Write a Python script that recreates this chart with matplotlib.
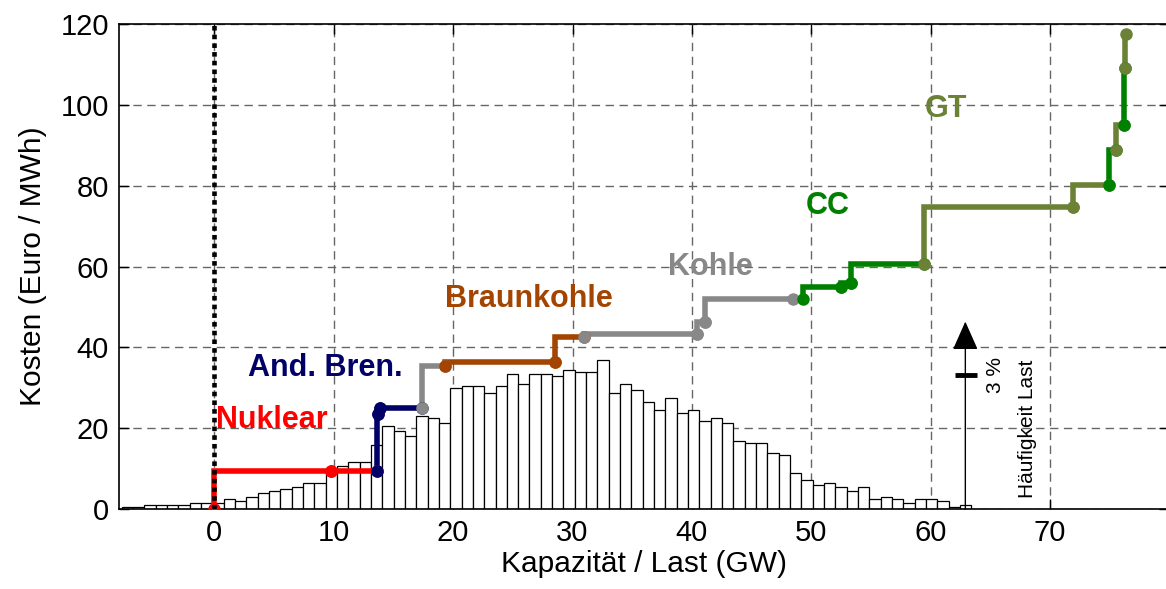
import matplotlib
matplotlib.use("Agg")
import matplotlib.pyplot as plt
import numpy as np

plt.rcParams['font.family'] = ['Liberation Sans', 'DejaVu Sans']

# Lastverteilung (Histogramm), Balkenhoehe in Achseneinheiten (3 % = 33.2)
load_min, load_max = -7.76, 63.4
load_freq = [0.4, 0.4, 1.0, 1.0, 1.0, 1.0, 1.4, 1.4, 1.4, 2.4,
             1.9, 2.9, 3.9, 4.5, 5.0, 5.4, 6.4, 6.4, 9.3, 10.7,
             11.7, 11.7, 15.8, 20.6, 19.3, 18.1, 23.1, 22.6, 21.2, 30.0,
             30.5, 30.5, 28.6, 30.5, 33.5, 31.0, 33.5, 33.5, 33.0, 34.5,
             34.0, 34.0, 37.0, 28.6, 31.0, 29.5, 26.6, 24.6, 27.6, 23.7,
             24.6, 21.7, 22.6, 21.2, 16.8, 16.3, 16.3, 13.8, 13.3, 8.8,
             7.3, 5.9, 6.4, 5.4, 4.4, 5.4, 2.4, 2.9, 2.4, 1.4,
             2.4, 2.4, 1.9, 0.4, 0.9]
pct_ref = 3
pct_ref_height = 33.2

# Kraftwerksbloecke (Merit Order)
unit_start = [0.0, 9.8, 13.6, 13.7, 13.9, 17.4, 19.3, 28.5, 31.0, 40.4,
              41.1, 49.3, 52.5, 53.3, 59.4, 71.9, 74.9, 75.5, 76.2, 76.3]
unit_end = [9.8, 13.6, 13.7, 13.9, 17.4, 19.3, 28.5, 31.0, 40.4, 41.1,
            48.5, 52.5, 53.3, 59.4, 71.9, 74.9, 75.5, 76.2, 76.3, 76.35]
unit_cost = [9.3, 9.3, 23.4, 25.1, 25.1, 35.4, 36.3, 42.5, 43.3, 46.3,
             52.1, 54.9, 56.0, 60.6, 74.8, 80.2, 88.8, 95.1, 109.2, 117.6]
unit_type = ['Nuklear', 'Nuklear', 'And. Bren.', 'And. Bren.', 'And. Bren.',
             'Kohle', 'Braunkohle', 'Braunkohle', 'Kohle', 'Kohle',
             'Kohle', 'CC', 'CC', 'CC', 'GT', 'GT', 'CC', 'GT', 'CC', 'GT']

type_names = ['Nuklear', 'And. Bren.', 'Braunkohle', 'Kohle', 'CC', 'GT']
type_colors = ['#ff0000', '#000066', '#a34400', '#888888', '#008000', '#6b8236']
type_label_x = [0.1, 2.8, 19.3, 38.0, 49.5, 59.5]
type_label_y = [22.0, 34.8, 52.0, 59.8, 75.0, 99.0]

colors = dict(zip(type_names, type_colors))

fig = plt.figure(figsize=(11.66, 5.89), dpi=100)
ax = fig.add_axes([0.1019, 0.1358, 0.9011, 0.8229])

ax.set_axisbelow(True)
ax.grid(True, color='#666666', linestyle=(0, (6, 4)), linewidth=1)

edges = np.linspace(load_min, load_max, len(load_freq) + 1)
ax.bar(edges[:-1], load_freq, width=np.diff(edges), align='edge',
       facecolor='white', edgecolor='black', linewidth=0.9, zorder=1)

prev = 0.0
for x0, x1, c, t in zip(unit_start, unit_end, unit_cost, unit_type):
    col = colors[t]
    ax.plot([x0, x0, x1], [prev, c, c], color=col, lw=4,
            solid_joinstyle='miter', zorder=3)
    ax.plot([x0, x1], [prev, c], 'o', color=col, ms=8, zorder=4)
    prev = c

ax.plot([0, 0], [0, 120], color='black', lw=3.3,
        linestyle=(0, (1.0, 0.9)), dash_capstyle='butt', zorder=5)

for name, col, lx, ly in zip(type_names, type_colors, type_label_x, type_label_y):
    ax.text(lx, ly, name, color=col, fontsize=22, fontweight='bold',
            ha='left', va='center', zorder=6)

# Skala fuer die Lasthaeufigkeit
ax.annotate('', xy=(62.9, 46.4), xytext=(62.9, 0),
            arrowprops=dict(arrowstyle='-|>,head_length=0.9,head_width=0.4',
                            color='black', lw=1, shrinkA=0, shrinkB=0,
                            mutation_scale=20), zorder=6)
ax.plot([62.0, 63.9], [pct_ref_height, pct_ref_height], color='black', lw=3.5,
        solid_capstyle='butt', zorder=6)
ax.text(65.4, pct_ref_height, f'{pct_ref} %', rotation=90, fontsize=15,
        ha='center', va='center')
ax.text(68.1, 19.8, 'Häufigkeit Last', rotation=90, fontsize=15,
        ha='center', va='center')

ax.set_xlim(-8, 80)
ax.set_ylim(0, 120)
ax.set_xticks(np.arange(0, 80, 10))
ax.set_yticks(np.arange(0, 121, 20))
ax.tick_params(direction='in', length=7, width=1, labelsize=21, pad=7,
               top=True, right=True)
for s in ax.spines.values():
    s.set_linewidth(1.2)

ax.set_xlabel('Kapazität / Last (GW)', fontsize=21.5, labelpad=2)
ax.set_ylabel('Kosten (Euro / MWh)', fontsize=21.5, labelpad=10)

fig.savefig('out.png', dpi=100)
